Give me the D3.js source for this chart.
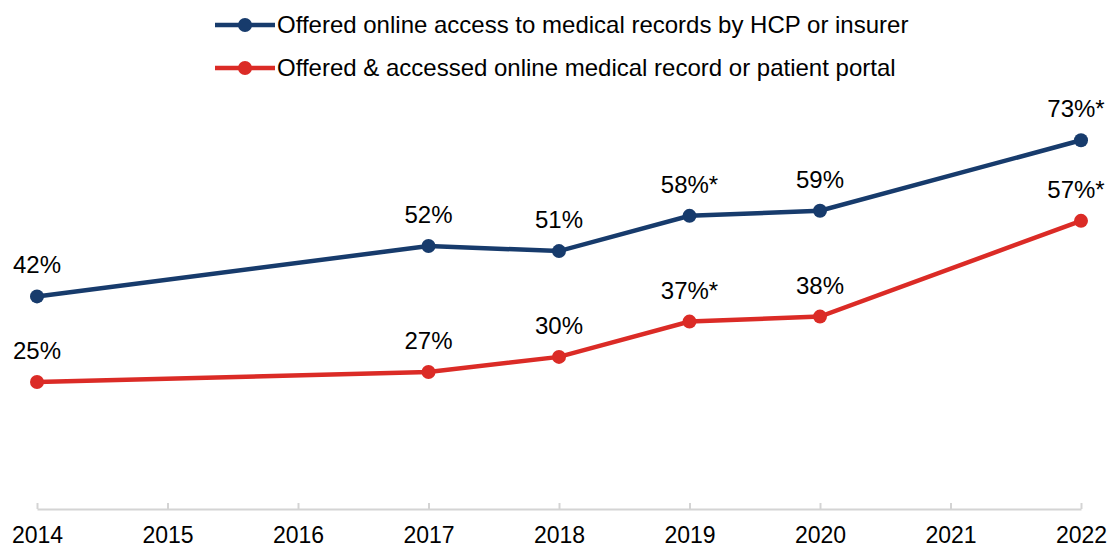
<!DOCTYPE html>
<html>
<head>
<meta charset="utf-8">
<script src="https://cdn.jsdelivr.net/npm/d3@7"></script>
<style>
  body { margin: 0; background: #fff; }
  svg { font-family: "Liberation Sans", Arial, sans-serif; }
</style>
</head>
<body>
<div id="chart"></div>
<script>
var years = [2014, 2015, 2016, 2017, 2018, 2019, 2020, 2021, 2022];
var dataYears = [2014, 2017, 2018, 2019, 2020, 2022];
var offeredValues = [42, 52, 51, 58, 59, 73];
var offeredLabels = ['42%', '52%', '51%', '58%*', '59%', '73%*'];
var accessedValues = [25, 27, 30, 37, 38, 57];
var accessedLabels = ['25%', '27%', '30%', '37%*', '38%', '57%*'];
var seriesNames = [
    'Offered online access to medical records by HCP or insurer',
    'Offered & accessed online medical record or patient portal'
];
var colors = ['#173b6c', '#db2b26'];

var svgWidth = 1110,
    svgHeight = 548;

var x = d3.scaleLinear().domain([2014, 2022]).range([37, 1081]),
    y = d3.scaleLinear().domain([0, 80]).range([508, 105]);

var svg = d3.select('#chart').append('svg')
    .attr('width', svgWidth)
    .attr('height', svgHeight);

// x axis, ticks pointing up
var xAxis = d3.axisBottom(x)
    .tickValues(years)
    .tickFormat(d3.format('d'))
    .tickSizeInner(-6)
    .tickSizeOuter(0)
    .tickPadding(18);

var axis = svg.append('g')
    .attr('transform', 'translate(0,509)')
    .call(xAxis);
axis.select('.domain').attr('stroke', '#d4d4d4').attr('stroke-width', 2);
axis.selectAll('.tick line').attr('stroke', '#d4d4d4').attr('stroke-width', 2);
axis.selectAll('.tick text')
    .attr('fill', '#000')
    .style('font-size', '23px')
    .style('font-family', '"Liberation Sans", Arial, sans-serif');

var series = [
    { name: seriesNames[0], values: offeredValues, labels: offeredLabels, color: colors[0] },
    { name: seriesNames[1], values: accessedValues, labels: accessedLabels, color: colors[1] }
];

var line = d3.line()
    .x(function (d) { return x(d.year); })
    .y(function (d) { return y(d.value); });

series.forEach(function (s) {
    var pts = dataYears.map(function (yr, i) {
        return { year: yr, value: s.values[i], label: s.labels[i] };
    });
    var g = svg.append('g');
    g.append('path')
        .datum(pts)
        .attr('d', line)
        .attr('fill', 'none')
        .attr('stroke', s.color)
        .attr('stroke-width', 4.5);
    g.selectAll('circle')
        .data(pts)
        .enter().append('circle')
        .attr('cx', function (d) { return x(d.year); })
        .attr('cy', function (d) { return y(d.value); })
        .attr('r', 7)
        .attr('fill', s.color);
    g.selectAll('text')
        .data(pts)
        .enter().append('text')
        .attr('x', function (d) { return Math.min(x(d.year), 1076); })
        .attr('y', function (d) { return y(d.value) - 23; })
        .attr('text-anchor', 'middle')
        .style('font-size', '24px')
        .attr('fill', '#000')
        .text(function (d) { return d.label; });
});

// legend
var legend = svg.append('g');
series.forEach(function (s, i) {
    var ly = 25 + i * 43;
    legend.append('line')
        .attr('x1', 215).attr('x2', 275)
        .attr('y1', ly).attr('y2', ly)
        .attr('stroke', s.color)
        .attr('stroke-width', 4.5);
    legend.append('circle')
        .attr('cx', 245).attr('cy', ly)
        .attr('r', 7)
        .attr('fill', s.color);
    legend.append('text')
        .attr('x', 277)
        .attr('y', ly)
        .attr('dy', '0.35em')
        .style('font-size', '24px')
        .attr('fill', '#000')
        .text(s.name);
});
</script>
</body>
</html>
